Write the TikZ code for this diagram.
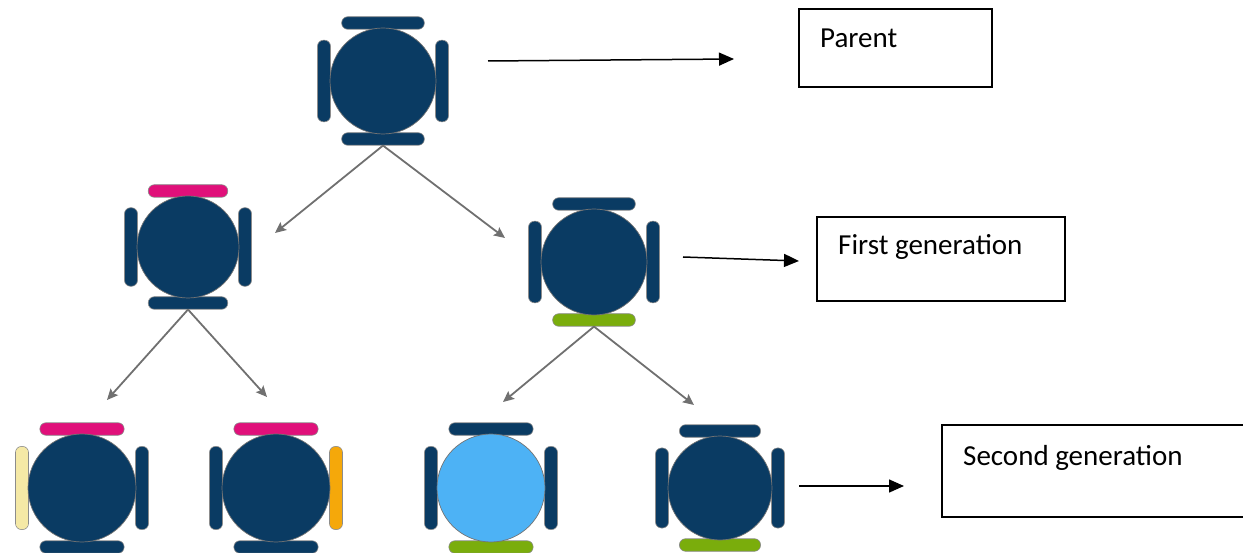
\documentclass[tikz,border=0pt]{standalone}
\usepackage{fontspec}
\setmainfont{Carlito}
\usetikzlibrary{arrows.meta}

\definecolor{navy}{RGB}{10,59,99}
\definecolor{chairpink}{RGB}{224,16,122}
\definecolor{chairgreen}{RGB}{122,173,12}
\definecolor{chaircream}{RGB}{245,233,166}
\definecolor{chairorange}{RGB}{245,168,10}
\definecolor{skyblue}{RGB}{77,178,245}
\definecolor{linkgray}{RGB}{112,112,112}

\tikzset{
  tabletop/.style={circle, draw=black!55, line width=0.7pt, inner sep=0pt},
  chairbar/.style={rectangle, rounded corners=6pt, draw=black!45, line width=0.6pt, inner sep=0pt},
  link/.style={draw=linkgray, line width=1.8pt, -{Stealth[length=11pt,width=10pt,inset=2pt]}},
  pointer/.style={draw=black, line width=1.5pt, -{Triangle[length=15pt,width=13pt]}},
  labelbox/.style={draw=black, line width=1.4pt, rectangle, inner sep=0pt},
  labeltext/.style={anchor=base west, inner sep=0pt, font=\fontsize{29}{35}\selectfont}
}

% A round table with four chairs: name, x, y, radius, table colour,
% then the chair colours north, east, south, west
\newcommand{\roundtable}[9]{%
  \node[chairbar, minimum width={1.56*#4 pt}, minimum height=12.5pt, fill=#6] (#1-n) at (#2,#3-#4-5) {};
  \node[chairbar, minimum width=13pt, minimum height={1.54*#4 pt}, fill=#7] (#1-e) at (#2+#4+6,#3) {};
  \node[chairbar, minimum width={1.56*#4 pt}, minimum height=12.5pt, fill=#8] (#1-s) at (#2,#3+#4+5) {};
  \node[chairbar, minimum width=13pt, minimum height={1.54*#4 pt}, fill=#9] (#1-w) at (#2-#4-6,#3) {};
  \node[tabletop, minimum size={2*#4 pt}, fill=#5] (#1) at (#2,#3) {};
}

\begin{document}
\begin{tikzpicture}[x=1pt, y=-1pt]
\useasboundingbox (0,0) rectangle (1243,553);

% family tree of tables
\roundtable{parent}{383}{81}{53}{navy}{navy}{navy}{navy}{navy}
\roundtable{genA}{188}{247}{51}{navy}{chairpink}{navy}{navy}{navy}
\roundtable{genB}{594}{262}{53}{navy}{navy}{navy}{chairgreen}{navy}
\roundtable{kidA}{82}{488}{54}{navy}{chairpink}{navy}{navy}{chaircream}
\roundtable{kidB}{276}{488}{54}{navy}{chairpink}{chairorange}{navy}{navy}
\roundtable{kidC}{491}{488}{54}{skyblue}{navy}{navy}{chairgreen}{navy}
\roundtable{kidD}{720}{488}{52}{navy}{navy}{navy}{chairgreen}{navy}

% arrow tips of the tree links
\coordinate (tipA) at (275,233);
\coordinate (tipB) at (505,238);
\coordinate (tipAA) at (107,400);
\coordinate (tipAB) at (267,397);
\coordinate (tipBA) at (503,402);
\coordinate (tipBB) at (694,405);

\draw[link] (parent-s.south) -- (tipA);
\draw[link] (parent-s.south) -- (tipB);
\draw[link] (genA-s.south) -- (tipAA);
\draw[link] (genA-s.south) -- (tipAB);
\draw[link] (genB-s.south) -- (tipBA);
\draw[link] (genB-s.south) -- (tipBB);

% label boxes
\node[labelbox, minimum width=193pt, minimum height=78pt] (boxparent) at (895.5,48) {};
\node[labeltext] (txtparent) at (820,48) {Parent};
\node[labelbox, minimum width=248pt, minimum height=84pt] (boxfirst) at (941,259) {};
\node[labeltext] (txtfirst) at (838,255) {First generation};
\node[labelbox, minimum width=358pt, minimum height=92pt] (boxsecond) at (1121,471) {};
\node[labeltext] (txtsecond) at (963,465) {Second generation};

% pointers towards the labels
\coordinate (p1s) at (488,61);
\coordinate (p1e) at (734,59);
\coordinate (p2s) at (683,257);
\coordinate (p2e) at (799,261);
\coordinate (p3s) at (799,486);
\coordinate (p3e) at (904,486);
\draw[pointer] (p1s) -- (p1e);
\draw[pointer] (p2s) -- (p2e);
\draw[pointer] (p3s) -- (p3e);
\end{tikzpicture}
\end{document}
